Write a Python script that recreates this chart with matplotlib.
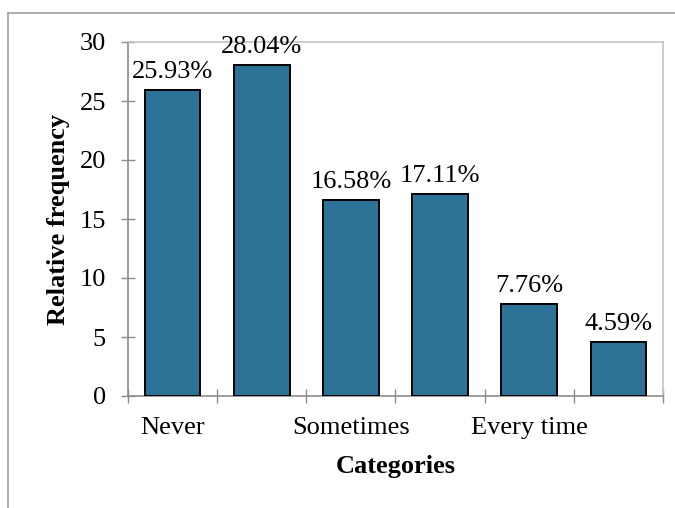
import matplotlib
matplotlib.use("Agg")
import matplotlib.pyplot as plt
from matplotlib.lines import Line2D
import numpy as np

# Response categories and their relative frequencies (%)
categories = ["Never", "", "Sometimes", "", "Every time", ""]
values = [25.93, 28.04, 16.58, 17.11, 7.76, 4.59]
y_ticks = [0, 5, 10, 15, 20, 25, 30]

plt.rcParams["font.family"] = ["Liberation Serif", "DejaVu Serif"]
FS = 19

fig = plt.figure(figsize=(6.75, 5.08), dpi=100)
ax = fig.add_axes([128 / 675, 1 - 396 / 508, (663 - 128) / 675, (396 - 42) / 508])

x = np.arange(len(values))
bars = ax.bar(x, values, width=0.625, color="#2c7397", edgecolor="black",
              linewidth=1.4, zorder=3)

for xi, v in zip(x, values):
    ax.annotate(f"{v:.2f}%", (xi, v), xytext=(0, 5), textcoords="offset points",
                ha="center", va="bottom", fontsize=FS)

ax.set_xlim(-0.5, len(values) - 0.5)
ax.set_ylim(0, 30)
ax.set_yticks(y_ticks)
ax.tick_params(axis="y", labelsize=FS, direction="inout", length=10,
               width=1, color="#8c8c8c", pad=11)

# category boundaries carry the tick marks; labels sit on bar centres
ax.set_xticks(np.arange(-0.5, len(values) + 0.5, 1.0))
ax.set_xticklabels([])
ax.set_xticks(x, minor=True)
ax.tick_params(axis="x", which="major", direction="inout", length=10,
               width=1, color="#8c8c8c")
ax.set_xticklabels(categories, minor=True)
ax.tick_params(axis="x", which="minor", length=0, labelsize=FS, pad=15)

ax.set_ylabel("Relative frequency", fontsize=FS, fontweight="bold", labelpad=7)
ax.set_xlabel("Categories", fontsize=FS, fontweight="bold", labelpad=12)

for side in ("left", "bottom"):
    ax.spines[side].set_color("#8c8c8c")
    ax.spines[side].set_linewidth(1.2)
for side in ("top", "right"):
    ax.spines[side].set_color("#c4c4c4")
    ax.spines[side].set_linewidth(1.2)

# outer chart border (top and left edges)
fig.add_artist(Line2D([8 / 675, 1], [1 - 13 / 508, 1 - 13 / 508],
                      transform=fig.transFigure, color="#a0a0a0", linewidth=1.2))
fig.add_artist(Line2D([8 / 675, 8 / 675], [0, 1 - 13 / 508],
                      transform=fig.transFigure, color="#a0a0a0", linewidth=1.2))

fig.savefig("out.png", dpi=100)
